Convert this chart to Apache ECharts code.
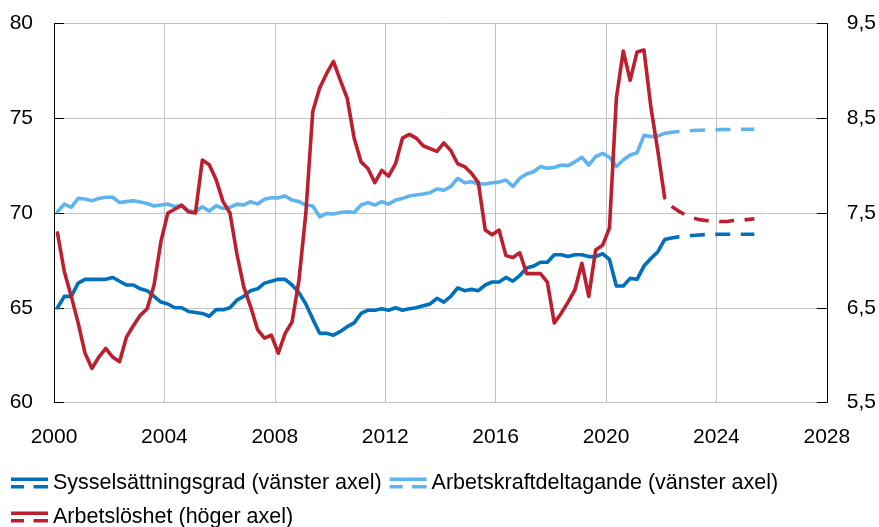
<!DOCTYPE html>
<html>
<head>
<meta charset="utf-8">
<script src="https://cdn.jsdelivr.net/npm/echarts@6/dist/echarts.min.js"></script>
<style>
  html, body { margin: 0; padding: 0; background: #ffffff; }
  #chart { width: 879px; height: 527px; }
</style>
</head>
<body>
<div id="chart"></div>
<script>
// Quarter labels, 2000K1 .. 2025K2
const quarters = [];
for (let y = 2000; quarters.length < 102; y++) {
  for (let q = 1; q <= 4 && quarters.length < 102; q++) quarters.push(y + 'K' + q);
}

// Outcome 2000K1–2022K1, percent of population
const sysselsattning = [
  65.0, 65.6, 65.6, 66.3, 66.5, 66.5, 66.5, 66.5, 66.6, 66.4,
  66.2, 66.2, 66.0, 65.9, 65.6, 65.3, 65.2, 65.0, 65.0, 64.8,
  64.75, 64.7, 64.55, 64.9, 64.9, 65.0, 65.4, 65.6, 65.9, 66.0,
  66.3, 66.4, 66.5, 66.5, 66.2, 65.8, 65.2, 64.4, 63.65, 63.65,
  63.55, 63.75, 64.0, 64.2, 64.7, 64.87, 64.87, 64.95, 64.87, 65.0,
  64.87, 64.95, 65.0, 65.1, 65.2, 65.5, 65.3, 65.6, 66.05, 65.9,
  65.97, 65.9, 66.2, 66.36, 66.36, 66.6, 66.4, 66.7, 67.1, 67.2,
  67.4, 67.4, 67.8, 67.8, 67.7, 67.8, 67.8, 67.7, 67.7, 67.85,
  67.55, 66.15, 66.15, 66.55, 66.5, 67.2, 67.6, 67.95, 68.6
];
const arbetskraft = [
  70.07, 70.47, 70.3, 70.77, 70.74, 70.65, 70.77, 70.83, 70.83, 70.55,
  70.6, 70.65, 70.58, 70.5, 70.37, 70.42, 70.47, 70.33, 70.42, 70.12,
  70.07, 70.33, 70.1, 70.38, 70.24, 70.3, 70.47, 70.42, 70.6, 70.47,
  70.72, 70.8, 70.8, 70.9, 70.68, 70.6, 70.42, 70.37, 69.8, 69.98,
  69.95, 70.03, 70.07, 70.03, 70.42, 70.55, 70.42, 70.6, 70.47, 70.68,
  70.77, 70.9, 70.95, 71.0, 71.07, 71.27, 71.2, 71.4, 71.83, 71.6,
  71.65, 71.53, 71.53, 71.6, 71.63, 71.74, 71.4, 71.83, 72.06, 72.18,
  72.45, 72.36, 72.4, 72.53, 72.5, 72.7, 72.94, 72.53, 72.97, 73.15,
  72.94, 72.45, 72.8, 73.06, 73.18, 74.1, 74.03, 74.06, 74.2
];
// Percent of labour force (right axis)
const arbetsloshet = [
  7.29, 6.88, 6.62, 6.34, 6.02, 5.86, 5.98, 6.07, 5.98, 5.93,
  6.19, 6.31, 6.42, 6.49, 6.74, 7.2, 7.5, 7.54, 7.58, 7.51,
  7.5, 8.06, 8.01, 7.85, 7.62, 7.5, 7.07, 6.72, 6.51, 6.27,
  6.18, 6.21, 6.02, 6.23, 6.35, 6.79, 7.5, 8.57, 8.82, 8.97,
  9.1, 8.9, 8.71, 8.29, 8.04, 7.97, 7.82, 7.95, 7.89, 8.02,
  8.29, 8.33, 8.29, 8.21, 8.18, 8.15, 8.24, 8.16, 8.02, 7.99,
  7.92, 7.82, 7.32, 7.27, 7.32, 7.05, 7.03, 7.08, 6.86, 6.86,
  6.86, 6.77, 6.34, 6.44, 6.56, 6.69, 6.97, 6.62, 7.11, 7.16,
  7.34, 8.71, 9.21, 8.9, 9.2, 9.22, 8.62, 8.16, 7.66
];

// Forecast 2022K1–2025K2
const sysselsattningPrognos = [
  68.6, 68.68, 68.74, 68.78, 68.81, 68.84, 68.86, 68.87, 68.88, 68.88,
  68.88, 68.88, 68.88, 68.88
];
const arbetskraftPrognos = [
  74.2, 74.26, 74.3, 74.33, 74.35, 74.37, 74.38, 74.39, 74.4, 74.41,
  74.41, 74.42, 74.42, 74.42
];
// Forecast 2022K2–2025K2
const arbetsloshetPrognos = [
  7.57, 7.52, 7.48, 7.45, 7.43, 7.42, 7.42, 7.41, 7.41, 7.42,
  7.43, 7.43, 7.44
];

const seriesNames = [
  'Sysselsättningsgrad (vänster axel)',
  'Arbetskraftdeltagande (vänster axel)',
  'Arbetslöshet (höger axel)'
];
const colors = ['#0070ba', '#60b4ee', '#bc1f2d'];

// Mid-quarter position on the year axis
function quarterPos(label) {
  const [y, q] = label.split('K').map(Number);
  return y + (q - 1) / 4 + 0.125;
}
function toPoints(values, startLabel) {
  const start = quarters.indexOf(startLabel);
  return values.map((v, k) => [quarterPos(quarters[start + k]), v]);
}

const FONT = 'Liberation Sans, Arial, sans-serif';
const GRID_GRAY = '#c3c3c3';
const DASH = [15, 10.5];
// Legend key: solid stroke above a dashed stroke
const KEY_ICON = 'path://M0,0H37V3.5H0Z M0,7.5H13V11H0Z M22.5,7.5H37V11H22.5Z';

function lineSeries(name, data, color, yAxisIndex, dashed) {
  return {
    type: 'line',
    name: name,
    yAxisIndex: yAxisIndex,
    data: data,
    showSymbol: false,
    symbol: 'none',
    silent: true,
    color: color,
    lineStyle: {
      color: color,
      width: 3.6,
      type: dashed ? DASH : 'solid',
      cap: dashed ? 'butt' : 'round',
      join: 'round'
    },
    itemStyle: { color: color }
  };
}

const chart = echarts.init(document.getElementById('chart'), null, { renderer: 'canvas' });
chart.setOption({
  animation: false,
  backgroundColor: '#ffffff',
  grid: { left: 54, right: 51, top: 23.5, bottom: 124.5, containLabel: false },
  xAxis: {
    type: 'value',
    min: 2000,
    max: 2028,
    interval: 4,
    axisLine: { show: true, lineStyle: { color: GRID_GRAY, width: 1 } },
    axisTick: { show: false },
    splitLine: { show: true, lineStyle: { color: GRID_GRAY, width: 1 } },
    axisLabel: {
      color: '#000', fontSize: 21, fontFamily: FONT, margin: 24,
      formatter: v => String(v)
    }
  },
  yAxis: [
    {
      type: 'value',
      position: 'left',
      min: 60,
      max: 80,
      interval: 5,
      axisLine: { show: true, lineStyle: { color: '#000', width: 1 } },
      axisTick: { show: true, inside: true, length: 10, lineStyle: { color: '#000', width: 1 } },
      splitLine: { show: true, lineStyle: { color: GRID_GRAY, width: 1 } },
      axisLabel: { color: '#000', fontSize: 21, fontFamily: FONT, margin: 21 }
    },
    {
      type: 'value',
      position: 'right',
      min: 5.5,
      max: 9.5,
      interval: 1,
      axisLine: { show: true, lineStyle: { color: '#000', width: 1 } },
      axisTick: { show: true, inside: true, length: 10, lineStyle: { color: '#000', width: 1 } },
      splitLine: { show: false },
      axisLabel: {
        color: '#000', fontSize: 21, fontFamily: FONT, margin: 20,
        formatter: v => v.toFixed(1).replace('.', ',')
      }
    }
  ],
  legend: {
    left: 11,
    top: 470,
    width: 800,
    padding: 0,
    itemWidth: 37,
    itemHeight: 11,
    itemGap: 8,
    symbolKeepAspect: false,
    selectedMode: false,
    itemStyle: { borderWidth: 0 },
    textStyle: { color: '#000', fontSize: 21.5, fontFamily: FONT, lineHeight: 26 },
    data: seriesNames.map(n => ({ name: n, icon: KEY_ICON }))
  },
  series: [
    lineSeries(seriesNames[0], toPoints(sysselsattning, '2000K1'), colors[0], 0, false),
    lineSeries(seriesNames[1], toPoints(arbetskraft, '2000K1'), colors[1], 0, false),
    lineSeries(seriesNames[2], toPoints(arbetsloshet, '2000K1'), colors[2], 1, false),
    lineSeries(seriesNames[0], toPoints(sysselsattningPrognos, '2022K1'), colors[0], 0, true),
    lineSeries(seriesNames[1], toPoints(arbetskraftPrognos, '2022K1'), colors[1], 0, true),
    lineSeries(seriesNames[2], toPoints(arbetsloshetPrognos, '2022K2'), colors[2], 1, true)
  ]
});
</script>
</body>
</html>
